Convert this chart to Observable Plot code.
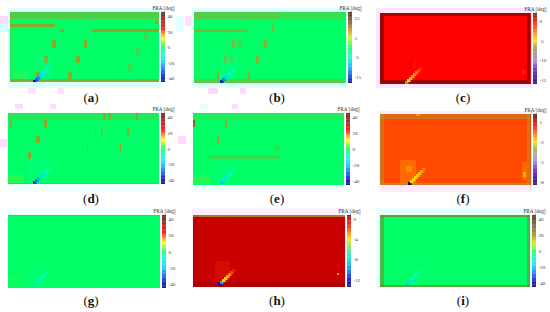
<!DOCTYPE html>
<html><head><meta charset="utf-8">
<script src="https://cdn.jsdelivr.net/npm/d3@7"></script>
<script src="https://cdn.jsdelivr.net/npm/@observablehq/plot@0.6"></script>
<style>
html,body{margin:0;padding:0;background:#fff}
#root{position:relative;width:550px;height:312px;overflow:hidden}
#root>*{position:absolute}
.cap{font:13px "Liberation Serif",serif;color:#111;transform:translate(-50%,-50%);white-space:nowrap}
.cap b{font-weight:bold}
</style></head><body><div id="root"></div>
<script>
// patch rows: x1, x2, y1, y2 (grid units, 150 x 70 per map), FRA value, opacity
const patchesA = [[0,150,0,7,19,.3],[0,45,12,15,19,.55],[82,150,17,20,19,.6],[50,54,17,20,19,.55],
  [42,46,28,36,19,.55],[74,77,28,36,19,.55],[34,38,44,51,19,.55],[66,70,44,51,19,.55],[26,30,60,67,19,.55],[58,62,60,67,19,.55],
  [134,138,21,28,19,.25],[126,130,36,43,19,.25],[118,122,52,59,19,.25],[145,149,8,12,19,.4],[0,150,67,70,19,.5],[0,3,0,70,19,.12],
  [30,42,45,68,-6,.2],[3,18,60,67,14,.12]];
const patchesB = [[0,86,0,7,9,.42],[86,150,0,7,9,.28],[0,49,17,20,9,.6],[50,54,17,20,9,.5],[78,80,12,19,9,.65],
  [38,41,28,35,9,.55],[44,47,28,35,9,.3],[70,73,28,35,9,.65],[30,33,44,51,9,.55],[36,39,44,51,9,.3],[62,65,44,51,9,.65],
  [23,25,60,67,9,.65],[54,56,60,67,9,.65],[0,150,67,71,9,.45],[0,6,0,70,9,.1],[26,42,45,67,-4,.2]];
const patchesC = [[0,150,0,3,1.2,1],[0,150,67,71,1.2,1],[0,4,0,71,1.2,1],[147,150,0,71,1.2,1],[33,36,45,60,-.8,.3],[142,145,57,61,-1.5,.5]];
const patchesD = [[0,150,0,7,19,.14],[95,97,0,7,19,.55],[101,103,0,7,19,.5],[128,130,0,7,19,.55],[2,4,7,14,19,.5],[36,39,7,14,19,.55],
  [28,32,23,30,19,.55],[87,88,15,22,19,.4],[93,95,15,22,19,.3],[119,121,15,22,19,.5],[79,80,31,38,19,.4],[112,113,31,38,19,.55],[20,23,39,46,19,.55],
  [0,150,70,71,19,.4],[20,40,45,70,-6,.2],[0,16,62,70,14,.15]];
const patchesE = [[0,150,0,7,19,.12],[0,2,7,14,25,.6],[32,34,7,14,19,.55],[24,26,23,30,19,.55],[16,87,42,46,19,.22],[82,87,32,38,19,.22],
  [0,16,62,71,14,.14],[25,36,52,70,-6,.2]];
const patchesF = [[0,150,0,5,-3,.32],[0,4,0,71,-3,.4],[147,150,0,71,-3,.45],[0,150,69,71,-3,.55],[20,36,46,70,-1.2,.45],[26,32,52,58,-1.7,.4],
  [142,147,48,66,-1.1,.5],[143,146,58,63,-1.9,.7],[36,40,0,2,-1.5,.7]];
const patchesG = [[0,152,0,1,19,.4],[25,38,50,72,-6,.14],[0,14,60,72,14,.05]];
const patchesH = [[0,152,0,2,-5,.55],[0,152,67,72,.4,.5],[0,6,0,72,.4,.2],[22,37,46,64,-.9,.45],[144,146,58,60,-3,1],[144,147,48,54,-1,.35],[36,38,0,3,-2,.3]];
const patchesI = [[0,150,0,2,25,.7],[0,150,70,72,25,.6],[0,4,0,72,25,.5],[147,150,0,72,25,.5],[25,38,50,70,-6,.14]];

// diagonal jet streak near the lower left corner of each map
const streakX = [0,2,4,6,8,10,12,14];
const streakY = [68,66,64,62,60,58,56,54];
const streakA = [-38,-30,-24,-18,-14,-10,-8,-5];
const streakB = [-16,-12,-8,-6,-5,-4,-3,-2];
const streakC = [-7,-5,-4.5,-4,-3.5,-3,-2,-1];
const streakD = [-34,-28,-22,-16,-18,-12,-8,-5];
const streakE = [-20,-16,-14,-10,-8,-6,-4,-3];
const streakF = [-8,-2,-2,-1.8,-1.8,-1.6,-1.4,-1];
const streakG = [-16,-14,-12,-10,-8,-6,-5,-3];
const streakH = [-12,-9,-4,-3.8,-3.5,-3,-2,-1];
const streakI = [-22,-18,-14,-10,-8,-6,-4,-3];

// panel table
const labels = ["a","b","c","d","e","f","g","h","i"];
const base = [0,0,0,0,0,-.5,0,.1,0];
const patchSets = [patchesA,patchesB,patchesC,patchesD,patchesE,patchesF,patchesG,patchesH,patchesI];
const streaks = [streakA,streakB,streakC,streakD,streakE,streakF,streakG,streakH,streakI];
const streakDx = [-2,1,0,0,2,3,0,0,0];

// colour ramps: value stops and colours
const stopsJet = [-45,-38,-28,-18,-8,0,5,11,17,23,35,45];
const colsJet = ["#00005a","#0000d0","#0070ff","#00d8ff","#00ffc0","#00ff66","#70ff20","#ffff00","#ff9000","#ff0000","#a01000","#501000"];
const stopsB = [-18,-15,-10,-5,0,3,5,8,12,18];
const colsB = ["#000060","#0030d0","#00b0ff","#00ffc0","#00ff66","#70ff20","#d8f000","#d0a020","#8a6020","#402000"];
const stopsC = [-16,-14,-12,-10,-8,-6.5,-5,-3,0,.5,2];
const colsC = ["#10004a","#3000c0","#6020e0","#a080e0","#909080","#a0a040","#ffe000","#ff8000","#ff0000","#d00000","#5a1000"];
const stopsF = [-8.4,-7,-6,-5,-4,-3,-2,-1.5,-.5,0,1,2.1];
const colsF = ["#10004a","#3000c0","#6020e0","#8080e0","#a0a0b0","#90b040","#ffe000","#ffb000","#ff4a00","#ff2000","#c00000","#400800"];
const stopsH = [-13.5,-12,-10,-8,-6.5,-5,-4,-3,-1.5,.1,.8];
const colsH = ["#000070","#0000d0","#0080ff","#00d8d8","#40e0a0","#a0e040","#ffe000","#ff9000","#ff2000","#c80000","#500000"];
const stopsI = [-45,-38,-28,-18,-8,0,3,10,20,30,45];
const colsI = ["#00005a","#0000d0","#0070ff","#00d8ff","#00ffc0","#00ff66","#60ff20","#d0f000","#a09000","#786030","#302810"];
const rampStops = [stopsJet,stopsB,stopsC,stopsJet,stopsJet,stopsF,stopsJet,stopsH,stopsI];
const rampCols = [colsJet,colsB,colsC,colsJet,colsJet,colsF,colsJet,colsH,colsI];

// colour bar ticks and extent
const barTicks = [[40,20,0,-20,-40],[15,5,-5,-15],[0,-5,-10,-15],[40,20,0,-20,-40],[40,20,0,-20,-40],[1,-2,-5,-8],[40,20,0,-20,-40],[0,-4,-8,-12],[40,20,0,-20,-40]];
const barMax = [45,18,2,45,45,2.1,45,.8,45];
const barMin = [-45,-18,-16,-45,-45,-8.4,-45,-13.5,-45];

// layout (page pixels)
const mapBox = [[10,12,149,70],[194,12,152,71],[380,13,151,71],[8,113,151,71],[193,113,151,72],[380,114,151,71],[8,215,152,73],[193,215,152,72],[380,215,150,72]];
const barGap = [2,2,2,2,2,2,2,2,2];
const capPos = [[91,98],[277,98],[463,98],[91,199],[277,199],[463,199],[91,301],[277,301],[463,301]];
const halo = [[8,8,153,80,"#dcffff"],[192,8,156,80,"#dcffff"],[376,8,156,80,"#ffe6ff"],[8,111,152,81,"#f0ffff"],[192,111,153,81,"#f0ffff"],[379,111,153,81,"#ffecff"],[8,208,153,81,"#f2ffff"],[192,208,154,80,"#fff0ff"],[376,208,155,80,"#e8ffff"]];
// compression fringes around the panels
const fringe = [[0,16,8,16,"#ffd8ff"],[0,24,8,8,"#ccffff"],[28,88,8,6,"#ffe0ff"],[58,88,6,6,"#ffe0ff"],[176,16,8,16,"#e0ffff"],[185,16,8,10,"#ffe0ff"],[208,88,10,6,"#ffd8ff"],[240,88,6,6,"#ffd8ff"],[0,139,8,8,"#ffdcff"],[15,104,8,5,"#ffdcff"],[50,104,6,5,"#ffdcff"],[178,136,8,8,"#ffdcff"],[200,104,8,5,"#e0ffff"],[232,104,6,5,"#ffdcff"]];

const root = document.getElementById("root");
const place = (n,l,t)=>{n.style.position="absolute";n.style.left=l+"px";n.style.top=t+"px";root.append(n);};

fringe.forEach(([l,t,w,h,c])=>{const d=document.createElement("div");d.style.cssText=`width:${w}px;height:${h}px;background:${c}`;place(d,l,t);});
halo.forEach(([l,t,w,h,c])=>{const d=document.createElement("div");d.style.cssText=`width:${w}px;height:${h}px;background:${c}`;place(d,l,t);});

labels.forEach((lab,i)=>{
  const [l,t,w,h] = mapBox[i];
  const color = {type:"linear",domain:rampStops[i],range:rampCols[i],interpolate:"rgb",clamp:true};
  const rows = [[0,152,0,73,base[i],1],...patchSets[i]].map(([x1,x2,y1,y2,v,o])=>({x1,x2,y1,y2,v,o}));
  const sw = streaks[i].map((v,k)=>({x1:25+streakDx[i]+streakX[k],x2:28.5+streakDx[i]+streakX[k],y1:streakY[k],y2:streakY[k]+3,v}));
  const map = Plot.plot({
    width:w,height:h,margin:0,
    x:{domain:[0,w],axis:null},
    y:{domain:[0,h],reverse:true,axis:null},
    color,opacity:{domain:[0,1],range:[0,1]},
    style:{background:"transparent",filter:"blur(.6px)"},
    marks:[
      Plot.rect(rows,{x1:"x1",x2:"x2",y1:"y1",y2:"y2",fill:"v",fillOpacity:"o"}),
      Plot.rect(sw,{x1:"x1",x2:"x2",y1:"y1",y2:"y2",fill:"v"})
    ]
  });
  place(map,l,t);

  const steps = d3.range(0,90).map(k=>barMin[i]+(barMax[i]-barMin[i])*k/90);
  const dv = (barMax[i]-barMin[i])/90;
  const ml = 12, mt = 10;
  const bar = Plot.plot({
    width:36,height:h+mt+2,marginLeft:ml,marginRight:20,marginTop:mt,marginBottom:2,
    x:{domain:[0,1],axis:null},
    y:{domain:[barMin[i],barMax[i]],axis:null},
    color,
    style:{background:"transparent",overflow:"visible"},
    marks:[
      Plot.rect(steps,{x1:0,x2:1,y1:d=>d,y2:d=>d+dv*1.05,fill:d=>d+dv/2}),
      Plot.axisY({anchor:"right",ticks:barTicks[i],tickSize:0,tickPadding:2,label:null,tickFormat:d=>String(d),fontSize:5,fill:"#333",fontFamily:"Liberation Serif"}),
      Plot.text(["FRA [deg]"],{frameAnchor:"top",dy:-6.5,dx:0,fontSize:5.2,fill:"#333",fontFamily:"Liberation Serif"})
    ]
  });
  place(bar,l+w+barGap[i]-ml,t-mt);

  const c = document.createElement("div");
  c.className="cap";
  c.innerHTML="(<b>"+lab+"</b>)";
  place(c,capPos[i][0],capPos[i][1]);
});
</script></body></html>
